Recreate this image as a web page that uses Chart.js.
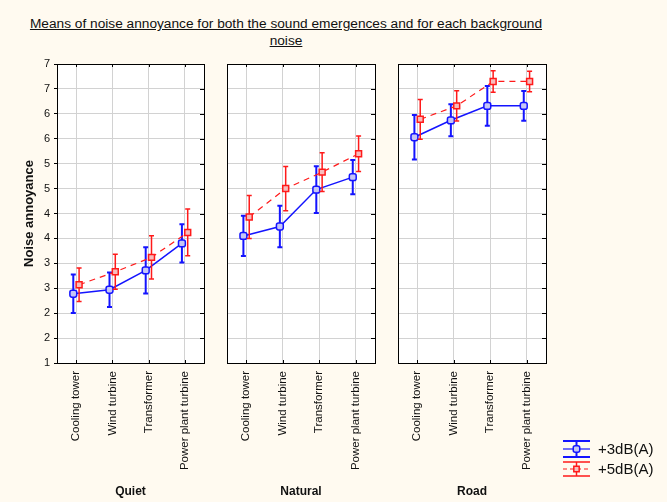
<!DOCTYPE html>
<html><head><meta charset="utf-8">
<script src="https://cdn.jsdelivr.net/npm/chart.js@4/dist/chart.umd.min.js"></script>
<style>
html,body{margin:0;padding:0;background:#fffaf0;}
#wrap{position:relative;width:667px;height:502px;background:#fffaf0;overflow:hidden;font-family:"Liberation Sans",Arial,sans-serif;color:#111;}
canvas{position:absolute;left:0;top:0;}
.t{position:absolute;text-decoration:underline;font-size:13.7px;white-space:nowrap;transform:translateX(-50%);line-height:16px;}
.lg{position:absolute;font-size:15px;white-space:nowrap;line-height:18px;}
</style></head><body>
<div id="wrap">
<div class="t" style="left:286px;top:16px">Means of noise annoyance for both the sound emergences and for each background</div>
<div class="t" style="left:286px;top:33px">noise</div>
<canvas id="c1" width="667" height="502" style="width:667px;height:502px"></canvas>
<canvas id="c2" width="667" height="502" style="width:667px;height:502px"></canvas>
<canvas id="c3" width="667" height="502" style="width:667px;height:502px"></canvas>
<div class="lg" style="left:598px;top:440px">+3dB(A)</div>
<div class="lg" style="left:598px;top:460px">+5dB(A)</div>
</div>
<script>
// ---- data ----
const categories = ['Cooling tower', 'Wind turbine', 'Transformer', 'Power plant turbine'];
const panelNames = ['Quiet', 'Natural', 'Road'];
const seriesNames = ['+3dB(A)', '+5dB(A)'];
const yMin = 1, yMax = 7, yStep = 0.5;

const quiet3Mean   = [2.39, 2.47, 2.86, 3.40];
const quiet3Err    = [0.385, 0.345, 0.465, 0.385];
const quiet5Mean   = [2.57, 2.83, 3.12, 3.62];
const quiet5Err    = [0.335, 0.35, 0.435, 0.47];

const natural3Mean = [3.55, 3.74, 4.48, 4.73];
const natural3Err  = [0.405, 0.415, 0.47, 0.345];
const natural5Mean = [3.93, 4.50, 4.83, 5.20];
const natural5Err  = [0.43, 0.445, 0.39, 0.355];

const road3Mean    = [5.53, 5.87, 6.16, 6.16];
const road3Err     = [0.445, 0.32, 0.40, 0.30];
const road5Mean    = [5.89, 6.16, 6.65, 6.65];
const road5Err     = [0.40, 0.305, 0.215, 0.205];

// ---- styling ----
const BLUE = '#1414ff', RED = '#ff1a1a';
const BLUE_FILL = '#c6c6f6', RED_FILL = '#f7bcbc';
const FONT = '"Liberation Sans", Arial, sans-serif';

const errorBarPlugin = {
  id: 'errbars',
  beforeDraw(chart) {
    const {ctx, chartArea: a} = chart;
    ctx.save();
    ctx.fillStyle = '#ffffff';
    ctx.fillRect(a.left, a.top, a.right - a.left, a.bottom - a.top);
    ctx.restore();
  },
  beforeDatasetDraw(chart, args) {
    const ds = chart.data.datasets[args.index];
    const meta = args.meta;
    const y = chart.scales.y;
    const {ctx} = chart;
    ctx.save();
    ctx.strokeStyle = ds.borderColor;
    ctx.lineWidth = ds.errWidth;
    meta.data.forEach((pt, i) => {
      const m = ds.data[i].y, e = ds.err[i];
      const y1 = y.getPixelForValue(m + e), y2 = y.getPixelForValue(m - e);
      const x = pt.x;
      ctx.beginPath();
      ctx.moveTo(x, y1); ctx.lineTo(x, y2);
      ctx.moveTo(x - 2.5, y1); ctx.lineTo(x + 2.5, y1);
      ctx.moveTo(x - 2.5, y2); ctx.lineTo(x + 2.5, y2);
      ctx.stroke();
    });
    ctx.restore();
  },
  afterDraw(chart, args, opts) {
    const {ctx, chartArea: a} = chart;
    const xs = chart.scales.x, ys = chart.scales.y;
    ctx.save();
    ctx.strokeStyle = '#000';
    ctx.lineWidth = 1;
    ctx.beginPath();
    for (let v = yMin; v <= yMax + 1e-9; v += yStep) {
      const py = Math.round(ys.getPixelForValue(v)) + 0.5;
      ctx.moveTo(a.right - 4, py); ctx.lineTo(a.right, py);
    }
    categories.forEach((c, i) => {
      const px = Math.round(xs.getPixelForValue(i)) + 0.5;
      ctx.moveTo(px, a.bottom); ctx.lineTo(px, a.bottom - 3);
      ctx.moveTo(px, a.top); ctx.lineTo(px, a.top + 3);
    });
    ctx.stroke();
    ctx.strokeRect(Math.round(a.left) + 0.5, Math.round(a.top) + 0.5,
                   Math.round(a.right - a.left), Math.round(a.bottom - a.top));
    ctx.restore();

    if (opts && opts.legend) {
      const items = [
        {c: BLUE, f: BLUE_FILL, style: 'rectRounded', dash: [], top: 441, mid: 449, bot: 457, w: 2},
        {c: RED, f: RED_FILL, style: 'rect', dash: [4, 3], top: 462, mid: 469, bot: 476, w: 1.5}
      ];
      items.forEach(it => {
        ctx.save();
        ctx.strokeStyle = it.c;
        ctx.lineWidth = it.w;
        ctx.beginPath();
        ctx.moveTo(563, it.top); ctx.lineTo(590, it.top);
        ctx.moveTo(563, it.bot); ctx.lineTo(590, it.bot);
        ctx.moveTo(576.5, it.top); ctx.lineTo(576.5, it.bot);
        ctx.stroke();
        ctx.lineWidth = 1.2;
        ctx.setLineDash(it.dash);
        ctx.beginPath();
        ctx.moveTo(563, it.mid); ctx.lineTo(590, it.mid);
        ctx.stroke();
        ctx.setLineDash([]);
        ctx.fillStyle = it.f;
        ctx.lineWidth = 1.5;
        Chart.helpers.drawPoint(ctx, {pointStyle: it.style, radius: 3.8, rotation: 0, borderWidth: 1.5}, 576.5, it.mid);
        ctx.restore();
      });
    }
  }
};

function makePanel(id, name, m3, e3, m5, e5, left, right, first, legend) {
  const off = 0.08;
  new Chart(document.getElementById(id), {
    type: 'line',
    data: {
      datasets: [
        {
          label: seriesNames[0],
          data: m3.map((v, i) => ({x: i - off, y: v})),
          err: e3, errWidth: 2, order: 1,
          borderColor: BLUE, borderWidth: 1.5,
          pointStyle: 'rectRounded', pointRadius: 4, pointHoverRadius: 4,
          pointBackgroundColor: BLUE_FILL, pointBorderColor: BLUE, pointBorderWidth: 1.5
        },
        {
          label: seriesNames[1],
          data: m5.map((v, i) => ({x: i + off, y: v})),
          err: e5, errWidth: 1.5, order: 0,
          borderColor: RED, borderWidth: 1.2, borderDash: [6, 5],
          pointStyle: 'rect', pointRadius: 4.2, pointHoverRadius: 4.2,
          pointBackgroundColor: RED_FILL, pointBorderColor: RED, pointBorderWidth: 1.5
        }
      ]
    },
    options: {
      responsive: false, animation: false, events: [],
      layout: {padding: {top: 64, left: 0, right: 667 - right, bottom: 0}},
      plugins: {legend: {display: false}, tooltip: {enabled: false}, errbars: {legend: legend}},
      scales: {
        x: {
          type: 'linear', min: -0.53, max: 3.53,
          border: {display: false},
          grid: {color: '#d2d2d2', drawTicks: false, lineWidth: 1},
          ticks: {
            stepSize: 1, includeBounds: false, autoSkip: false,
            minRotation: 90, maxRotation: 90, padding: 8,
            color: '#111', font: {family: FONT, size: 11.5},
            callback: v => categories[v]
          },
          title: {display: true, text: name, color: '#111',
                  font: {family: FONT, size: 12, weight: 'bold'}, padding: {top: 0, bottom: 3}},
          afterFit: s => { s.height = 139; }
        },
        y: {
          min: yMin, max: yMax,
          border: {display: false},
          grid: {color: '#d2d2d2', tickColor: '#000', drawTicks: first, tickLength: 3},
          ticks: {
            display: first, stepSize: yStep, padding: 4,
            color: '#111', font: {family: FONT, size: 11},
            callback: v => String(Math.round(v))
          },
          title: {display: first, text: 'Noise annoyance', color: '#111',
                  font: {family: FONT, size: 13, weight: 'bold'}, padding: {top: 22, bottom: 0}},
          afterFit: s => { s.width = left; }
        }
      }
    },
    plugins: [errorBarPlugin]
  });
}

makePanel('c1', panelNames[0], quiet3Mean, quiet3Err, quiet5Mean, quiet5Err, 57, 204, true, false);
makePanel('c2', panelNames[1], natural3Mean, natural3Err, natural5Mean, natural5Err, 227, 375, false, false);
makePanel('c3', panelNames[2], road3Mean, road3Err, road5Mean, road5Err, 398, 546, false, true);
</script>
</body></html>
